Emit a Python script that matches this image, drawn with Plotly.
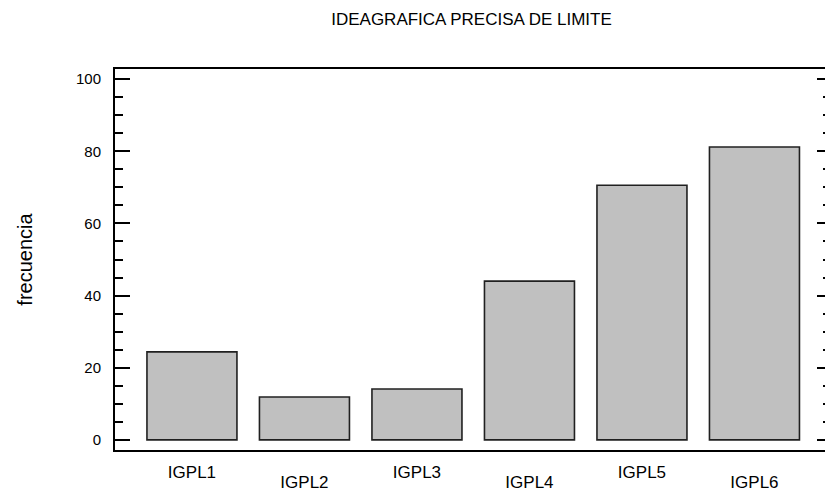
import plotly.graph_objects as go

categories = ["IGPL1", "IGPL2", "IGPL3", "IGPL4", "IGPL5", "IGPL6"]
values = [24.4, 11.9, 14.1, 44.0, 70.6, 81.2]
y_ticks = [0, 20, 40, 60, 80, 100]
title_text = "IDEAGRAFICA PRECISA DE LIMITE"
y_title = "frecuencia"

FONT = "Liberation Sans, Arial, sans-serif"

positions = list(range(len(categories)))
upper_vals = positions[0::2]
upper_text = categories[0::2]
lower_vals = positions[1::2]
lower_text = categories[1::2]

W, H = 825, 491
XR = [-0.684, 5.627]
YR = [-2.8, 102.8]

fig = go.Figure()
fig.add_trace(go.Bar(
    x=positions, y=values, width=0.8,
    marker=dict(color="#c0c0c0", line=dict(color="#202020", width=1.6)),
    showlegend=False, hoverinfo="x+y",
))
# invisible trace to activate the secondary axes
fig.add_trace(go.Scatter(x=[0], y=[0], xaxis="x2", yaxis="y2", mode="markers",
                         marker=dict(opacity=0), showlegend=False, hoverinfo="skip"))

fig.update_layout(
    width=W, height=H,
    margin=dict(l=115, r=0, t=69, b=41),
    paper_bgcolor="white", plot_bgcolor="white",
    font=dict(family=FONT, color="black", size=15),
    title=dict(text=title_text, xref="container", x=471.5 / W, xanchor="center",
               yref="container", y=1 - 19 / H, yanchor="middle",
               font=dict(family=FONT, size=17, color="black")),
    xaxis=dict(
        range=XR, tickmode="array", tickvals=upper_vals, ticktext=upper_text,
        showline=True, linecolor="black", linewidth=2, mirror=True,
        showgrid=False, zeroline=False, ticks="", ticklabelstandoff=6,
        tickfont=dict(size=17),
    ),
    xaxis2=dict(
        range=XR, overlaying="x", side="bottom", anchor="y", tickmode="array",
        tickvals=lower_vals, ticktext=lower_text,
        showline=False, showgrid=False, zeroline=False, ticks="",
        ticklabelstandoff=20, tickfont=dict(size=17),
    ),
    yaxis=dict(
        range=YR, tickvals=y_ticks,
        showline=True, linecolor="black", linewidth=2,
        showgrid=False, zeroline=False,
        ticks="inside", ticklen=15, tickwidth=2, tickcolor="black",
        minor=dict(dtick=5, ticks="inside", ticklen=8, tickwidth=2, tickcolor="black", showgrid=False),
        ticklabelstandoff=9,
        title=dict(text=y_title, standoff=38, font=dict(size=20)),
        tickfont=dict(size=15),
    ),
    yaxis2=dict(
        range=YR, overlaying="y", side="right", anchor="x", tickvals=y_ticks,
        showline=True, linecolor="black", linewidth=2,
        showgrid=False, zeroline=False, showticklabels=False,
        ticks="inside", ticklen=8, tickwidth=2, tickcolor="black",
        minor=dict(dtick=5, ticks="inside", ticklen=2, tickwidth=2, tickcolor="black", showgrid=False),
    ),
    bargap=0.2,
)

# remove the browser's default body margin so the figure sits at the page origin
fig.write_html("out.html",
               config={"displayModeBar": False},
               post_script="document.body.style.margin='0';document.body.style.overflow='hidden';")
